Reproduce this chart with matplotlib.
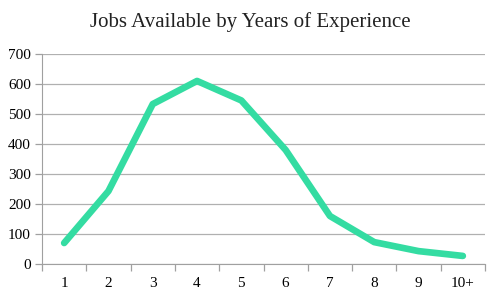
import matplotlib.pyplot as plt
import numpy as np

# Data
years = ["1", "2", "3", "4", "5", "6", "7", "8", "9", "10+"]
jobs = [70, 243, 533, 610, 545, 380, 160, 73, 43, 27]

plt.rcParams["font.family"] = ["Liberation Serif", "DejaVu Serif"]

fig = plt.figure(figsize=(5.0, 2.98), dpi=100)
ax = fig.add_axes([0.084, 0.114, 0.886, 0.705])

x = np.arange(len(years))
ax.plot(x, jobs, color="#34DCA2", linewidth=4.8, solid_capstyle="round",
        solid_joinstyle="round")

ax.set_xlim(-0.5, len(years) - 0.5)
ax.set_ylim(0, 700)
ax.set_yticks(range(0, 701, 100))
ax.yaxis.grid(True, color="#b0b0b0", linewidth=0.9)
ax.set_axisbelow(True)

# category labels centred, tick marks between categories
ax.set_xticks(x)
ax.set_xticklabels(years)
ax.set_xticks(np.arange(-0.5, len(years), 1.0), minor=True)
ax.tick_params(axis="x", which="major", length=0, pad=9, labelsize=11)
ax.tick_params(axis="x", which="minor", length=5, color="#a0a0a0", width=0.9)
ax.tick_params(axis="y", length=5, color="#a0a0a0", width=0.9, labelsize=11, pad=3)

for side in ["top", "right"]:
    ax.spines[side].set_visible(False)
ax.spines["left"].set_color("#a0a0a0")
ax.spines["bottom"].set_color("#a0a0a0")

fig.text(0.5, 0.925, "Jobs Available by Years of Experience",
         ha="center", va="center", fontsize=15, color="#222222")

plt.savefig("out.png", dpi=100)
